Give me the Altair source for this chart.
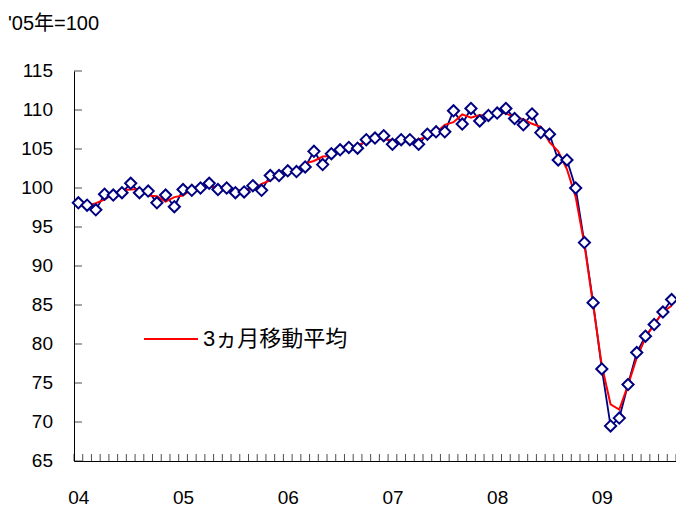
import altair as alt
import pandas as pd

# Monthly index values, '05 = 100, Jan 2004 - Sep 2009
y2004 = [98.1, 97.8, 97.2, 99.2, 99.1, 99.4, 100.6, 99.4, 99.6, 98.1, 99.1, 97.6]
y2005 = [99.8, 99.7, 100.0, 100.6, 99.8, 100.0, 99.4, 99.5, 100.3, 99.7, 101.6, 101.6]
y2006 = [102.2, 102.1, 102.7, 104.7, 103.0, 104.4, 104.9, 105.2, 105.1, 106.2, 106.4, 106.7]
y2007 = [105.6, 106.2, 106.2, 105.6, 106.9, 107.2, 107.2, 109.9, 108.2, 110.2, 108.6, 109.3]
y2008 = [109.6, 110.2, 108.9, 108.1, 109.5, 107.1, 106.9, 103.6, 103.6, 100.0, 93.0, 85.3]
y2009 = [76.8, 69.5, 70.5, 74.8, 78.9, 81.0, 82.5, 84.1, 85.7]

year_labels = ["04", "05", "06", "07", "08", "09"]
y_ticks = [65, 70, 75, 80, 85, 90, 95, 100, 105, 110, 115]
legend_label = "3ヵ月移動平均"
title_text = "'05年=100"

values = y2004 + y2005 + y2006 + y2007 + y2008 + y2009
df = pd.DataFrame({"m": list(range(len(values))), "v": values})
df["series"] = legend_label
xt = pd.DataFrame({"t": [i - 0.5 for i in range(len(values) + 1)]})
yt = pd.DataFrame({"t": y_ticks, "lab": [str(v) for v in y_ticks]})
tt = pd.DataFrame({"txt": [title_text]})

FONT = "Liberation Sans, 'Noto Sans CJK JP'"
W, H = 602, 390

xscale = alt.Scale(domain=[-0.5, len(values) - 0.5], nice=False, zero=False)
yscale = alt.Scale(domain=[65, 115], nice=False, zero=False)

label_expr = "[" + ",".join("'%s'" % s for s in year_labels) + "][round(datum.value/12)]"

xaxis = alt.Axis(values=[0, 12, 24, 36, 48, 60], labelExpr=label_expr, title=None,
                 grid=False, tickSize=0, labelPadding=27, labelFontSize=19,
                 labelFont=FONT, labelColor="black", domainColor="black",
                 domainWidth=1, labelAngle=0, labelOverlap=False)
yaxis = alt.Axis(labels=False, ticks=False, title=None, grid=False,
                 domainColor="black", domainWidth=1)

base = alt.Chart(df)

blue = base.mark_line(color="#000080", strokeWidth=1.8).encode(
    x=alt.X("m:Q", scale=xscale, axis=xaxis),
    y=alt.Y("v:Q", scale=yscale, axis=yaxis),
)

red = base.transform_window(
    ma="mean(v)", frame=[-1, 1], sort=[alt.SortField("m")]
).mark_line(strokeWidth=2).encode(
    x=alt.X("m:Q", scale=xscale),
    y=alt.Y("ma:Q", scale=yscale),
    color=alt.Color("series:N",
                    scale=alt.Scale(domain=[legend_label], range=["#FF0000"]),
                    legend=alt.Legend(title=None, orient="none", legendX=69, legendY=240,
                                      symbolType="stroke", symbolSize=2916,
                                      symbolStrokeWidth=2, labelFontSize=22,
                                      labelFont=FONT, labelColor="black",
                                      labelOffset=4, padding=0)),
)

pts = base.mark_point(shape="diamond", filled=False, fill="white", fillOpacity=1,
                      stroke="#000080", strokeWidth=2, size=125, opacity=1).encode(
    x=alt.X("m:Q", scale=xscale),
    y=alt.Y("v:Q", scale=yscale),
)

xticks = alt.Chart(xt).mark_tick(orient="vertical", color="black", thickness=1, size=7).encode(
    x=alt.X("t:Q", scale=xscale),
    y=alt.value(H - 3.5),
)
yticks = alt.Chart(yt).mark_tick(orient="horizontal", color="black", thickness=1, size=8).encode(
    y=alt.Y("t:Q", scale=yscale),
    x=alt.value(4),
)
ylabels = alt.Chart(yt).mark_text(align="right", baseline="middle", fontSize=19,
                                  font=FONT, color="black").encode(
    y=alt.Y("t:Q", scale=yscale),
    x=alt.value(-21),
    text="lab:N",
)

title = alt.Chart(tt).mark_text(align="left", baseline="alphabetic", fontSize=20,
                                font=FONT, color="black").encode(
    text="txt:N", x=alt.value(-66), y=alt.value(-41),
)

chart = alt.layer(blue, red, pts, xticks, yticks, ylabels, title).properties(
    width=W, height=H,
    autosize=alt.AutoSizeParams(type="none"),
    padding={"left": 66, "top": 63, "right": 0, "bottom": 48},
).configure_view(stroke=None)

chart.save("out.html", embed_options={"renderer": "svg", "actions": False})
